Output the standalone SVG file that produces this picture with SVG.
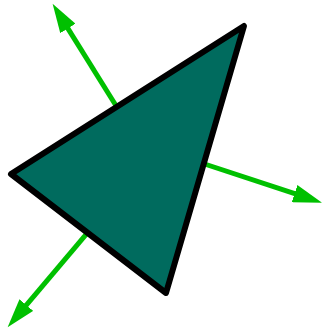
<svg xmlns="http://www.w3.org/2000/svg" width="324" height="333" viewBox="0 0 324 333">
<style>
.arrow{stroke:#00c000;stroke-width:5;fill:none;marker-end:url(#head)}
.tri{fill:#006b5e;stroke:#000;stroke-width:6;stroke-linejoin:round}
</style>
<defs>
<marker id="head" markerUnits="userSpaceOnUse" markerWidth="30" markerHeight="18" viewBox="0 0 30 18" refX="1" refY="9" orient="auto">
<path d="M0,0 L29,9 L0,18 z" fill="#00c000"/>
</marker>
</defs>
<rect width="324" height="333" fill="#fff"/>
<g id="connectors">
<line class="arrow" x1="119" y1="110.5" x2="67.4" y2="27.6"/>
<line class="arrow" x1="198.5" y1="162" x2="295.5" y2="193.9"/>
<line class="arrow" x1="89.5" y1="230.4" x2="25.7" y2="305.8"/>
</g>
<g id="triangle">
<polygon class="tri" points="11,174 244,26 166,293"/>
</g>
</svg>
